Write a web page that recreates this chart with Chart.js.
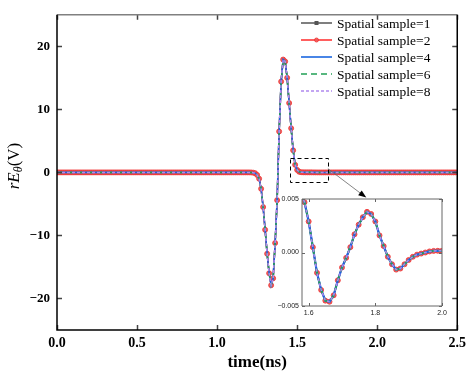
<!DOCTYPE html>
<html>
<head>
<meta charset="utf-8">
<script src="https://cdn.jsdelivr.net/npm/chart.js@4/dist/chart.umd.min.js"></script>
<style>
html,body{margin:0;padding:0;background:#fff;}
#wrap{position:relative;width:471px;height:379px;}
#main{position:absolute;left:0;top:0;}
#inset{position:absolute;left:270px;top:190px;}
</style>
</head>
<body>
<div id="wrap">
<canvas id="main" width="471" height="379"></canvas>
<canvas id="inset" width="180" height="130"></canvas>
</div>
<script>
// ---- data ----
const timeNs = [
0,0.0125,0.025,0.0375,0.05,0.0625,0.075,0.0875,
0.1,0.1125,0.125,0.1375,0.15,0.1625,0.175,0.1875,
0.2,0.2125,0.225,0.2375,0.25,0.2625,0.275,0.2875,
0.3,0.3125,0.325,0.3375,0.35,0.3625,0.375,0.3875,
0.4,0.4125,0.425,0.4375,0.45,0.4625,0.475,0.4875,
0.5,0.5125,0.525,0.5375,0.55,0.5625,0.575,0.5875,
0.6,0.6125,0.625,0.6375,0.65,0.6625,0.675,0.6875,
0.7,0.7125,0.725,0.7375,0.75,0.7625,0.775,0.7875,
0.8,0.8125,0.825,0.8375,0.85,0.8625,0.875,0.8875,
0.9,0.9125,0.925,0.9375,0.95,0.9625,0.975,0.9875,
1.0,1.0125,1.025,1.0375,1.05,1.0625,1.075,1.0875,
1.1,1.1125,1.125,1.1375,1.15,1.1625,1.175,1.1875,
1.2,1.2125,1.225,1.2375,1.25,1.2625,1.275,1.2875,
1.3,1.3125,1.325,1.3375,1.35,1.3625,1.375,1.3875,
1.4,1.4125,1.425,1.4375,1.45,1.4625,1.475,1.4875,
1.5,1.5125,1.525,1.5375,1.55,1.5625,1.575,1.5875,
1.6,1.6125,1.625,1.6375,1.65,1.6625,1.675,1.6875,
1.7,1.7125,1.725,1.7375,1.75,1.7625,1.775,1.7875,
1.8,1.8125,1.825,1.8375,1.85,1.8625,1.875,1.8875,
1.9,1.9125,1.925,1.9375,1.95,1.9625,1.975,1.9875,
2.0,2.0125,2.025,2.0375,2.05,2.0625,2.075,2.0875,
2.1,2.1125,2.125,2.1375,2.15,2.1625,2.175,2.1875,
2.2,2.2125,2.225,2.2375,2.25,2.2625,2.275,2.2875,
2.3,2.3125,2.325,2.3375,2.35,2.3625,2.375,2.3875,
2.4,2.4125,2.425,2.4375,2.45,2.4625,2.475,2.4875,
2.5
];

// rE_theta (V) (all five spatial-sample runs overlap)
const rE_sample1 = [
0,0,0,0,0,0,0,0,
0,0,0,0,0,0,0,0,
0,0,0,0,0,0,0,0,
0,0,0,0,0,0,0,0,
0,0,0,0,0,0,0,0,
0,0,0,0,0,0,0,0,
0,0,0,0,0,0,0,0,
0,0,0,0,0,0,0,0,
0,0,0,0,0,0,0,0,
0,0,0,0,0,0,0,0,
0,0,0,0,0,0,0,0,
0,0,0,0,0,0,0,0,
0,-0.01,-0.04,-0.12,-0.4,-1.0,-2.6,-5.5,
-9.1,-12.9,-16.0,-17.9,-16.8,-11.2,-4.4,6.5,
14.4,17.9,17.6,15.0,11.0,7.0,3.5,1.2,
0.4,0.1,0.03,0.012,0.008,0.0068,0.0058,0.0047,
0.0029,0.0005,-0.0019,-0.0035,-0.0045,-0.0046,-0.0040,-0.0026,
-0.0014,-0.0005,0.0005,0.0017,0.0026,0.0033,0.0038,0.0036,
0.0029,0.0016,0.0006,-0.0004,-0.0011,-0.0016,-0.0015,-0.0011,
-0.0007,-0.0004,-0.0002,-0.0001,0,0.0001,0.00015,0.00016,
0.00016,0.00015,0.00013,0.0001,0.00008,0.00005,0.00003,0.00001,
0,0,0,0,0,0,0,0,
0,0,0,0,0,0,0,0,
0,0,0,0,0,0,0,0,
0,0,0,0,0,0,0,0,
0
];
const rE_sample2 = rE_sample1.slice();
const rE_sample4 = rE_sample1.slice();
const rE_sample6 = rE_sample1.slice();
const rE_sample8 = rE_sample1.slice();

const seriesLabels = ['Spatial sample=1','Spatial sample=2','Spatial sample=4','Spatial sample=6','Spatial sample=8'];
const xTicks = [0,0.5,1.0,1.5,2.0,2.5];
const yTicks = [-20,-10,0,10,20];
const insetXTicks = [1.6,1.8,2.0];
const insetYTicks = [-0.005,0,0.005];
const zoomBox = [1.455,1.692,-1.5,2.3];        // x0,x1,y0,y1 (data units)
const zoomArrow = [1.692,0.6,1.932,-4.0];      // from x,y to x,y (data units)

// ---- helpers ----
const pts = vals => timeNs.map((t,i)=>({x:t,y:vals[i]}));
const serif = 'Liberation Serif';
const minus = v => (v<0 ? '\u2212' : '') ;

function makeDatasets(inset){
  return [
    {label:seriesLabels[0],data:pts(rE_sample1),borderColor:'#555555',borderWidth:1.5,
     pointStyle:'rect',pointRadius:2,pointBackgroundColor:'#555555',pointBorderColor:'#555555',pointBorderWidth:0.5,order:5},
    {label:seriesLabels[1],data:pts(rE_sample2),borderColor:'#ff2a2a',borderWidth:1.5,
     pointStyle:'circle',pointRadius:2.5,pointBackgroundColor:'rgba(240,90,90,0.85)',pointBorderColor:'#f03030',pointBorderWidth:0.8,order:4},
    {label:seriesLabels[2],data:pts(rE_sample4),borderColor:'#1a66e0',borderWidth:inset?2.2:1.6,pointRadius:0,order:3},
    {label:seriesLabels[3],data:pts(rE_sample6),borderColor:'#22a055',borderWidth:inset?1.8:1.5,borderDash:[6,4],pointRadius:0,order:2},
    {label:seriesLabels[4],data:pts(rE_sample8),borderColor:'#b088ee',borderWidth:1.5,borderDash:[3,2],pointRadius:0,order:1}
  ];
}

function drawFrame(chart, o){
  const {ctx, chartArea:a, scales} = chart;
  ctx.save();
  ctx.strokeStyle = o.tickColor; ctx.lineWidth = o.tickWidth;
  ctx.beginPath();
  scales.x.ticks.forEach(t=>{
    const px = Math.round(scales.x.getPixelForValue(t.value))+0.5;
    ctx.moveTo(px,a.bottom); ctx.lineTo(px,a.bottom-o.tickLen);
    ctx.moveTo(px,a.top); ctx.lineTo(px,a.top+o.tickLen);
  });
  scales.y.ticks.forEach(t=>{
    const py = Math.round(scales.y.getPixelForValue(t.value))+0.5;
    ctx.moveTo(a.left,py); ctx.lineTo(a.left+o.tickLen,py);
    ctx.moveTo(a.right,py); ctx.lineTo(a.right-o.tickLen,py);
  });
  ctx.stroke();
  ctx.lineWidth = o.frameWidth;
  ctx.strokeStyle = o.topColor;
  ctx.beginPath(); ctx.moveTo(a.left,a.top); ctx.lineTo(a.right,a.top); ctx.stroke();
  ctx.strokeStyle = o.frameColor;
  ctx.beginPath();
  ctx.moveTo(a.right,a.top); ctx.lineTo(a.right,a.bottom); ctx.lineTo(a.left,a.bottom); ctx.lineTo(a.left,a.top);
  ctx.stroke();
  ctx.restore();
}

const mainDecor = {
  id:'mainDecor',
  afterDraw(chart){
    const {ctx, scales:{x,y}} = chart;
    drawFrame(chart,{tickColor:'#444',tickWidth:1.5,tickLen:5,frameWidth:1.5,topColor:'#808080',frameColor:'#000'});
    ctx.save();
    const bx0=x.getPixelForValue(zoomBox[0]), bx1=x.getPixelForValue(zoomBox[1]);
    const by0=y.getPixelForValue(zoomBox[3]), by1=y.getPixelForValue(zoomBox[2]);
    ctx.setLineDash([4,3]); ctx.strokeStyle='#000'; ctx.lineWidth=1;
    ctx.strokeRect(Math.round(bx0)+0.5,Math.round(by0)+0.5,Math.round(bx1-bx0),Math.round(by1-by0));
    ctx.setLineDash([]);
    const ax0=x.getPixelForValue(zoomArrow[0]), ay0=y.getPixelForValue(zoomArrow[1]);
    const ax1=x.getPixelForValue(zoomArrow[2]), ay1=y.getPixelForValue(zoomArrow[3]);
    const ang=Math.atan2(ay1-ay0,ax1-ax0);
    ctx.strokeStyle='#666'; ctx.lineWidth=0.8;
    ctx.beginPath(); ctx.moveTo(ax0,ay0); ctx.lineTo(ax1-6*Math.cos(ang),ay1-6*Math.sin(ang)); ctx.stroke();
    ctx.fillStyle='#000';
    ctx.beginPath();
    ctx.moveTo(ax1,ay1);
    ctx.lineTo(ax1-8*Math.cos(ang)+3*Math.sin(ang), ay1-8*Math.sin(ang)-3*Math.cos(ang));
    ctx.lineTo(ax1-8*Math.cos(ang)-3*Math.sin(ang), ay1-8*Math.sin(ang)+3*Math.cos(ang));
    ctx.closePath(); ctx.fill();
    // y title  rE_θ(V)
    ctx.translate(15,166); ctx.rotate(-Math.PI/2);
    ctx.fillStyle='#000'; ctx.textBaseline='middle';
    const parts=[['r','italic 17px '+serif,0],['E','italic 17px '+serif,0],['\u03b8','italic 12px '+serif,4],['(V)','17px '+serif,0]];
    let w=0; parts.forEach(p=>{ctx.font=p[1]; w+=ctx.measureText(p[0]).width;});
    let cx=-w/2;
    parts.forEach(p=>{ctx.font=p[1]; ctx.fillText(p[0],cx,p[2]); cx+=ctx.measureText(p[0]).width;});
    ctx.restore();
    // legend
    ctx.save();
    const lx0=301, lx1=332, ly0=23, dy=17;
    chart.data.datasets.forEach((ds,i)=>{
      const yy=ly0+i*dy;
      ctx.strokeStyle=ds.borderColor; ctx.lineWidth=ds.borderWidth; ctx.setLineDash(ds.borderDash||[]);
      ctx.beginPath(); ctx.moveTo(lx0,yy); ctx.lineTo(lx1,yy); ctx.stroke(); ctx.setLineDash([]);
      if(ds.pointRadius>0){
        ctx.fillStyle=ds.pointBackgroundColor; ctx.strokeStyle=ds.pointBorderColor; ctx.lineWidth=0.8;
        const mx=(lx0+lx1)/2;
        if(ds.pointStyle==='rect'){ctx.fillRect(mx-2,yy-2,4,4);} else {ctx.beginPath();ctx.arc(mx,yy,2,0,Math.PI*2);ctx.fill();ctx.stroke();}
      }
      ctx.fillStyle='#000'; ctx.font='13.5px '+serif; ctx.textBaseline='middle';
      ctx.fillText(ds.label,337,yy+1);
    });
    ctx.restore();
  }
};

const mainChart = new Chart(document.getElementById('main'),{
  type:'line',
  data:{datasets:makeDatasets(false)},
  options:{
    responsive:false,animation:false,devicePixelRatio:1,
    layout:{padding:{top:6,right:12,left:0,bottom:0}},
    elements:{line:{tension:0}},
    plugins:{legend:{display:false},tooltip:{enabled:false}},
    scales:{
      x:{type:'linear',min:0,max:2.5,
         afterBuildTicks:s=>{s.ticks=xTicks.map(v=>({value:v}));},
         afterFit:s=>{s.height=49;},
         grid:{display:false,drawTicks:false,tickLength:0},border:{display:false},
         ticks:{font:{family:serif,size:14,weight:'bold'},color:'#000',padding:5,maxRotation:0,
                callback:v=>v.toFixed(1)},
         title:{display:true,text:'time(ns)',font:{family:serif,size:17,weight:'bold'},color:'#000',padding:{top:0,bottom:6}}},
      y:{min:-25,max:25,
         afterBuildTicks:s=>{s.ticks=yTicks.map(v=>({value:v}));},
         afterFit:s=>{s.width=57;},
         grid:{display:false,drawTicks:false,tickLength:0},border:{display:false},
         ticks:{font:{family:serif,size:13,weight:'bold'},color:'#000',padding:7,
                callback:v=>minus(v)+Math.abs(v)}}
    }
  },
  plugins:[mainDecor]
});

const insetDecor = {
  id:'insetDecor',
  beforeDatasetsDraw(chart){
    const {ctx,chartArea:a}=chart;
    ctx.save(); ctx.fillStyle='#fff'; ctx.fillRect(a.left,a.top,a.right-a.left,a.bottom-a.top); ctx.restore();
  },
  afterDraw(chart){
    drawFrame(chart,{tickColor:'#666',tickWidth:1,tickLen:3,frameWidth:1,topColor:'#666',frameColor:'#666'});
  }
};

const insetChart = new Chart(document.getElementById('inset'),{
  type:'line',
  data:{datasets:makeDatasets(true)},
  options:{
    responsive:false,animation:false,devicePixelRatio:1,
    layout:{padding:{top:9,right:8,left:0,bottom:0}},
    elements:{line:{tension:0}},
    plugins:{legend:{display:false},tooltip:{enabled:false}},
    scales:{
      x:{type:'linear',min:1.58,max:2.0,
         afterBuildTicks:s=>{s.ticks=insetXTicks.map(v=>({value:v}));},
         afterFit:s=>{s.height=14;},
         grid:{display:false,drawTicks:false,tickLength:0},border:{display:false},
         ticks:{font:{family:'Liberation Sans',size:7},color:'#222',padding:3,maxRotation:0,
                callback:v=>v.toFixed(1)}},
      y:{min:-0.005,max:0.005,
         afterBuildTicks:s=>{s.ticks=insetYTicks.map(v=>({value:v}));},
         afterFit:s=>{s.width=32;},
         grid:{display:false,drawTicks:false,tickLength:0},border:{display:false},
         ticks:{font:{family:'Liberation Sans',size:7},color:'#222',padding:3,
                callback:v=>minus(v)+Math.abs(v).toFixed(3)}}
    }
  },
  plugins:[insetDecor]
});
</script>
</body>
</html>
